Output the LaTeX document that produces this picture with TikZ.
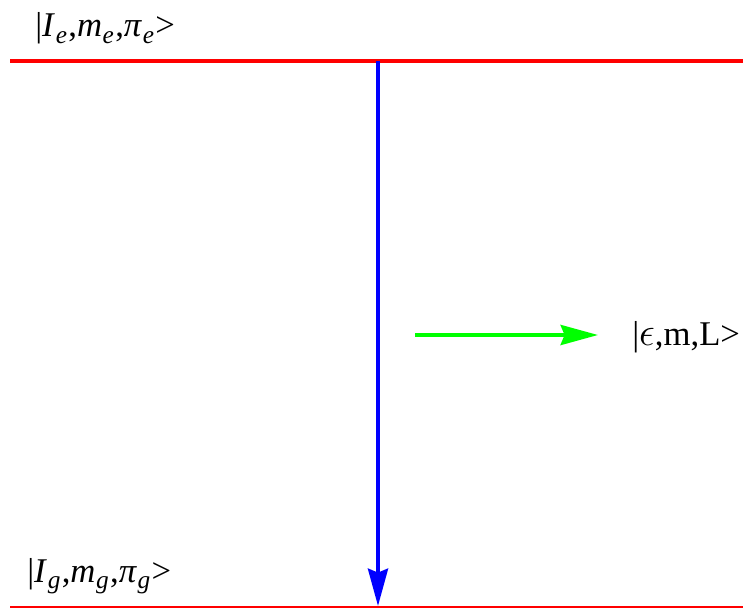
\documentclass[tikz,border=0pt]{standalone}
\usepackage{fontspec}
\setmainfont{Liberation Serif}
\usetikzlibrary{arrows.meta}
\newcommand{\lowsub}[1]{\kern0.5pt\raisebox{-0.4ex}{\fontsize{19}{19}\selectfont\itshape #1}\kern1pt}
\begin{document}
\begin{tikzpicture}[x=0.75pt,y=-0.75pt,
  level/.style={draw=red,line width=3pt},
  trans/.style={draw=blue,line width=3pt,-{Stealth[length=28pt,width=15pt,inset=3pt]}},
  emit/.style={draw=green,line width=3pt,-{Stealth[length=28pt,width=15pt,inset=3pt]}},
  lbl/.style={inner sep=0pt,anchor=base west,font=\fontsize{26}{26}\selectfont}]
\useasboundingbox (0,0) rectangle (743,610);
\coordinate (eL) at (10,61);
\coordinate (eR) at (743,61);
\coordinate (gL) at (10,607);
\coordinate (gR) at (743,607);
\coordinate (top) at (378,61);
\coordinate (bot) at (378,606);
\coordinate (gs) at (415,335);
\coordinate (ge) at (598,335);
\draw[level] (eL) -- (eR);
\draw[level,line width=2pt] (gL) -- (gR);
\draw[trans] (top) -- (bot);
\draw[emit] (gs) -- (ge);
\node[lbl] (le) at (35,37) {|\textit{I}\lowsub{e},\textit{m}\lowsub{e},\textit{π}\lowsub{e}>};
\node[lbl] (lg) at (27,582) {|\textit{I}\lowsub{g},\textit{m}\lowsub{g},\textit{π}\lowsub{g}>};
\node[lbl,anchor=west] (lc) at (632,337) {|\scalebox{1.2}{$\epsilon$},m,L>};
\end{tikzpicture}
\end{document}
